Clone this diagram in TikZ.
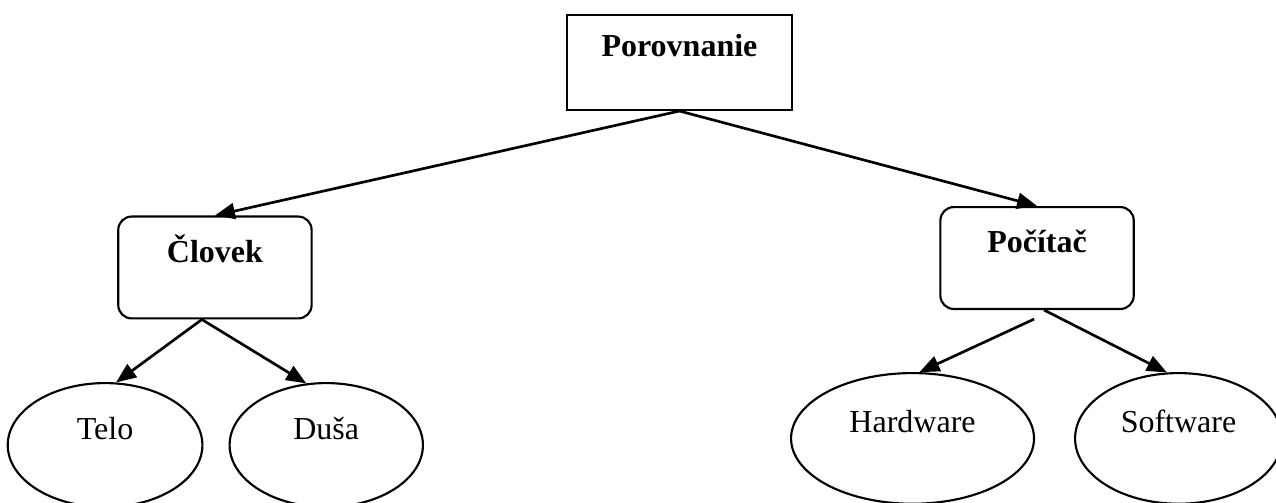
\documentclass[tikz,border=0pt]{standalone}
\usepackage{fontspec}
\setmainfont{Liberation Serif}
\usetikzlibrary{positioning, shapes.geometric, arrows.meta}

\begin{document}
\begin{tikzpicture}[
            font=\fontsize{12pt}{14pt}\selectfont,
            module/.style={draw, line width=0.8pt, inner sep=0pt, font=\fontsize{12pt}{14pt}\selectfont\bfseries},
            rootmodule/.style={module, minimum width=84.4pt, text height=15.75pt, text depth=19.9pt},
            submodule/.style={module, rounded corners=5pt, minimum width=72.5pt, text height=17.2pt, text depth=21pt},
            leaf/.style={draw, ellipse, line width=0.8pt, inner sep=0pt, text height=8pt, text depth=12.5pt},
            arrow/.style={-{Triangle[length=7.5pt, width=6pt]}, line width=1pt}
        ]
            \useasboundingbox (0pt,0pt) rectangle (478.5pt,-188.6pt);

            \node [rootmodule] (root) at (254.8pt,-23.4pt) {Porovnanie};
            \node [submodule] (clovek) at (80.6pt,-100.3pt) {Človek};
            \node [submodule] (pocitac) at (388.9pt,-96.75pt) {Počítač};

            \node [leaf, minimum width=73pt, minimum height=46.5pt] (telo) at (39.4pt,-166.9pt) {Telo};
            \node [leaf, minimum width=72.5pt, minimum height=46.5pt, right=9.4pt of telo] (dusa) {Duša};
            \node [leaf, minimum width=91.1pt, minimum height=49pt] (hardware) at (342.2pt,-164.4pt) {Hardware};
            \node [leaf, minimum width=77.6pt, minimum height=49pt, right=14.6pt of hardware] (software) {Software};

            \coordinate (clovek out) at ([xshift=-4.9pt]clovek.south);
            \coordinate (pocitac left) at ([shift={(-1.1pt,-3.4pt)}]pocitac.south);
            \coordinate (pocitac right) at ([xshift=2.6pt]pocitac.south);

            \draw [arrow] (root.south) -- (clovek.north);
            \draw [arrow] (root.south) -- (pocitac.north);
            \draw [arrow] (clovek out) -- (telo.80);
            \draw [arrow] (clovek out) -- (dusa.108);
            \draw [arrow] (pocitac left) -- (hardware.84);
            \draw [arrow] (pocitac right) -- (software.100);

        \end{tikzpicture}
\end{document}
